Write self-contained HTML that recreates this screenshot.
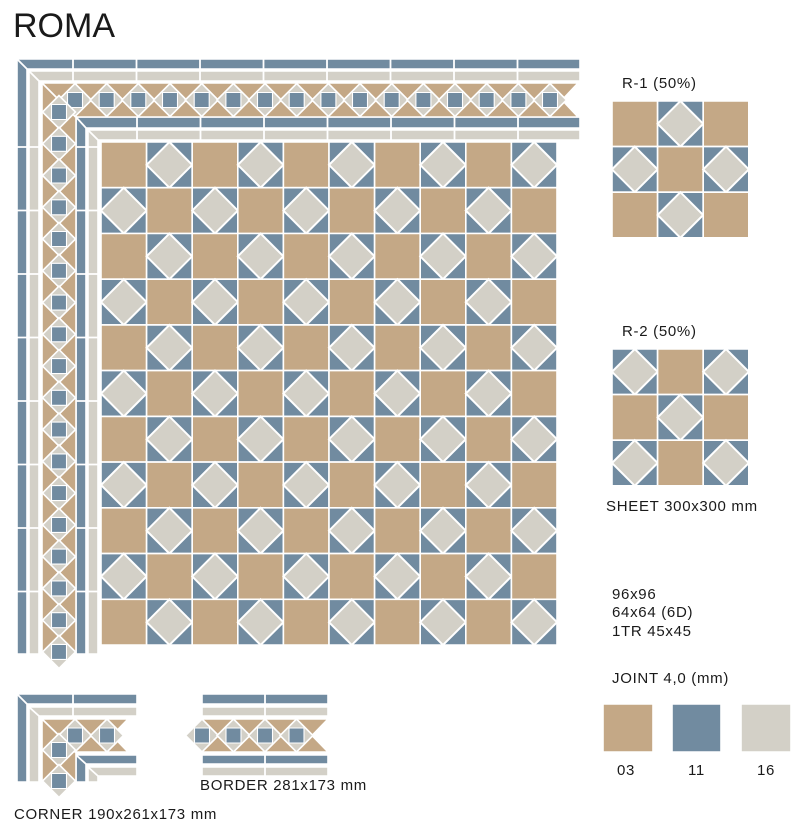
<!DOCTYPE html>
<html><head><meta charset="utf-8">
<style>
html,body{margin:0;padding:0;background:#fff;}
body{width:803px;height:838px;position:relative;overflow:hidden;font-family:"Liberation Sans",sans-serif;color:#1a1a1a;}
.t{position:absolute;white-space:nowrap;font-size:15px;line-height:17px;letter-spacing:0.7px;}
svg{position:absolute;left:0;top:0;}
</style></head><body>
<svg id="s" width="803" height="838" xmlns="http://www.w3.org/2000/svg"></svg>
<div class="t" style="left:13px;top:7px;font-size:34px;line-height:38px;letter-spacing:0;">ROMA</div>
<div class="t" style="left:622px;top:75px;">R-1 (50%)</div>
<div class="t" style="left:622px;top:323px;">R-2 (50%)</div>
<div class="t" style="left:606px;top:498px;">SHEET 300x300 mm</div>
<div class="t" style="left:612px;top:586px;">96x96</div>
<div class="t" style="left:612px;top:604px;">64x64 (6D)</div>
<div class="t" style="left:612px;top:623px;">1TR 45x45</div>
<div class="t" style="left:612px;top:670px;">JOINT 4,0 (mm)</div>
<div class="t" style="left:617px;top:762px;">03</div>
<div class="t" style="left:688px;top:762px;">11</div>
<div class="t" style="left:757px;top:762px;">16</div>
<div class="t" style="left:200px;top:777px;">BORDER 281x173 mm</div>
<div class="t" style="left:14px;top:806px;">CORNER 190x261x173 mm</div>
<script>
var T='#c4a886',B='#718ba0',L='#d3d0c7',W='#fff';
var out=[];
function poly(pts,fill,sw){out.push('<polygon points="'+pts.map(function(p){return p[0].toFixed(1)+','+p[1].toFixed(1)}).join(' ')+'" fill="'+fill+'" stroke="#fff" stroke-width="'+(sw||1.6)+'"/>');}
function rect(x,y,w,h,f){poly([[x,y],[x+w,y],[x+w,y+h],[x,y+h]],f);}
function line(x1,y1,x2,y2){out.push('<line x1="'+x1+'" y1="'+y1+'" x2="'+x2+'" y2="'+y2+'" stroke="#fff" stroke-width="1.8"/>');}
function grid(x0,y0,cols,rows,cw,ch,even){
 for(var r=0;r<rows;r++)for(var c=0;c<cols;c++){
  var x=x0+c*cw,y=y0+r*ch;var tan=((r+c)%2==0)==even;
  if(tan){rect(x,y,cw,ch,T);}else{rect(x,y,cw,ch,B);poly([[x+cw/2,y],[x+cw,y+ch/2],[x+cw/2,y+ch],[x,y+ch/2]],L,2);}
 }}
function P(h,a,b){return h?[a,b]:[b,a];}
function bandBg(h,a0,a1,b0,b1,notch){var bm=(b0+b1)/2;var pts=[P(h,a0,b0),P(h,a1,b0)];if(notch)pts.push(P(h,a1-16,bm));pts.push(P(h,a1,b1),P(h,a0,b1));poly(pts,T);}
function bandD(h,b0,b1,cs){var bm=(b0+b1)/2;cs.forEach(function(c){
 poly([P(h,c,bm-16.5),P(h,c+16.5,bm),P(h,c,bm+16.5),P(h,c-16.5,bm)],L,1.6);
 var q=7.5;poly([P(h,c-q,bm-q),P(h,c+q,bm-q),P(h,c+q,bm+q),P(h,c-q,bm+q)],B,1.1);});}
function seq(s,st,n){var a=[];for(var i=0;i<n;i++)a.push(s+i*st);return a;}

poly([[17,59],[580,59],[580,69],[27,69],[27,654],[17,654]],B);
poly([[29,71],[580,71],[580,81],[39,81],[39,654],[29,654]],L);
poly([[76,117],[580,117],[580,128],[86,128],[86,654],[76,654]],B);
poly([[88,130],[580,130],[580,140],[98,140],[98,654],[88,654]],L);
line(17,59,27,69);line(29,71,39,81);line(76,117,86,128);line(88,130,98,140);
seq(73,63.5,9).forEach(function(x){line(x,58,x,82);});
seq(137,63.5,8).forEach(function(x){line(x,116,x,141);});
seq(147,63.5,8).forEach(function(y){line(16,y,40,y);line(75,y,99,y);});
bandBg(true,42,578,83,117,true);
bandBg(false,83,654,42,76,false);
line(42,83,76,117);
bandD(true,83,117,seq(75,31.67,16));
bandD(false,42,76,seq(112,31.76,18));

grid(101,142,10,11,45.6,45.73,true);
grid(612,101,3,3,45.6,45.6,true);
grid(612,349,3,3,45.6,45.6,false);

rect(603,704,50,48,T);rect(672,704,49,48,B);rect(741,704,50,48,L);

poly([[17,694],[137,694],[137,704],[27,704],[27,782],[17,782]],B);
poly([[29,707],[137,707],[137,716],[39,716],[39,782],[29,782]],L);
poly([[76,755],[137,755],[137,764],[86,764],[86,782],[76,782]],B);
poly([[88,767],[137,767],[137,776],[98,776],[98,782],[88,782]],L);
line(17,694,27,704);line(29,707,39,716);line(76,755,86,764);line(88,767,98,776);
line(73,693,73,717);
bandBg(true,42,128,719,752,true);
bandBg(false,719,782,42,76,false);
line(42,719,76,752);
bandD(true,719,752,[75,107]);
bandD(false,42,76,[750,781]);

rect(202,694,126,10,B);rect(202,707,126,9,L);rect(202,755,126,9,B);rect(202,767,126,9,L);
line(265,693,265,717);line(265,754,265,777);
bandBg(true,202,328,719,752,true);
bandD(true,719,752,[202,233.5,265,296.5]);

document.getElementById('s').innerHTML=out.join('');
</script>
</body></html>
